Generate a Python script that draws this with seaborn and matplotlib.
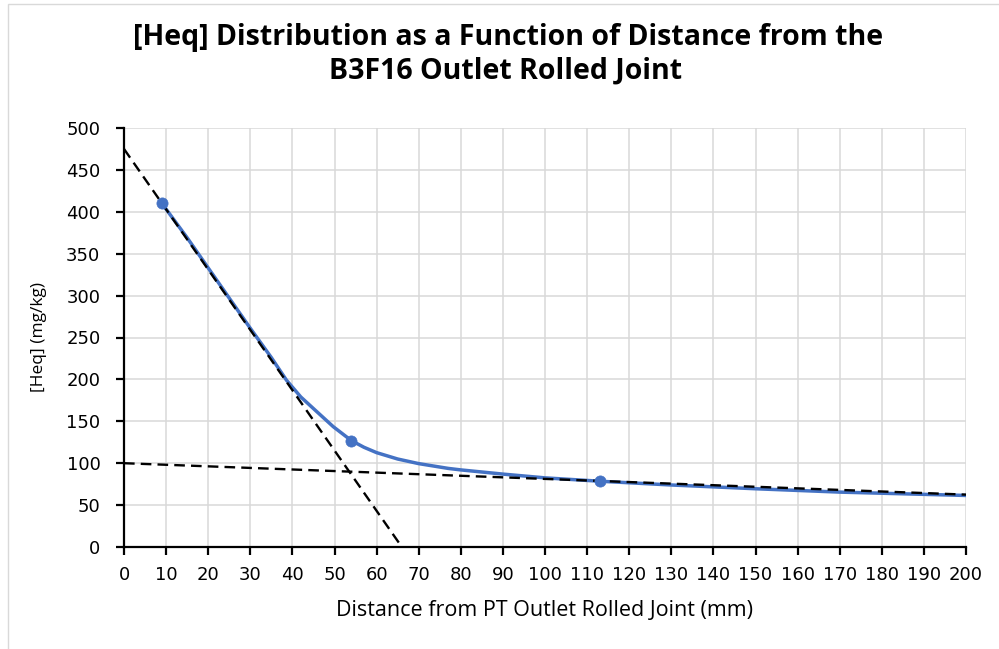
import matplotlib
matplotlib.use("Agg")
import matplotlib.pyplot as plt
import seaborn as sns
import pandas as pd
from matplotlib.patches import Rectangle

# ---- data ----
marker_x = [9, 54, 113]
marker_y = [410, 127, 78.5]

curve_x = [9, 15, 20, 25, 30, 35, 38.6, 42, 45.8, 49.7, 54, 57, 60, 65, 70, 77, 80, 90, 100, 113, 130, 150, 170, 200]
curve_y = [410, 369, 333, 297, 261, 226, 199, 179, 161.5, 143.6, 127, 119, 112.6, 105, 99.5, 93.8, 92, 87, 82.5, 78.5, 74, 69.5, 65.5, 61.5]

trend1_x = [0, 66]
trend1_y = [475, 0]
trend2_x = [0, 200]
trend2_y = [100, 62.5]

x_ticks = list(range(0, 201, 10))
y_ticks = list(range(0, 501, 50))

title_lines = ["[Heq] Distribution as a Function of Distance from the",
               "B3F16 Outlet Rolled Joint"]
x_label = "Distance from PT Outlet Rolled Joint (mm)"
y_label = "[Heq] (mg/kg)"

# ---- figure ----
sns.set_theme(style="whitegrid")
plt.rcParams['font.family'] = ['DejaVu Sans']
plt.rcParams['text.color'] = 'black'

fig = plt.figure(figsize=(9.99, 6.49), dpi=100)
fig.patch.set_facecolor("white")
ax = fig.add_axes([124/999, 1-547/649, (966-124)/999, (547-128)/649])
ax.set_facecolor("white")

curve_df = pd.DataFrame({"x": curve_x, "y": curve_y})
sns.lineplot(data=curve_df, x="x", y="y", ax=ax, color="#4472C4", lw=2.5,
             sort=False, estimator=None, zorder=3)

t1 = pd.DataFrame({"x": trend1_x, "y": trend1_y})
t2 = pd.DataFrame({"x": trend2_x, "y": trend2_y})
for t in (t1, t2):
    sns.lineplot(data=t, x="x", y="y", ax=ax, color="black", lw=1.7,
                 sort=False, estimator=None, zorder=4, dashes=False,
                 linestyle=(0, (4.5, 2.6)))

mk = pd.DataFrame({"x": marker_x, "y": marker_y})
sns.scatterplot(data=mk, x="x", y="y", ax=ax, color="#4472C4", s=65,
                edgecolor="#4472C4", linewidth=0.5, zorder=5)

ax.set_xlim(0, 200)
ax.set_ylim(0, 500)
ax.set_xticks(x_ticks)
ax.set_yticks(y_ticks)
ax.grid(True, color="#D9D9D9", lw=1.1)
ax.set_axisbelow(True)

for side in ("top", "right"):
    ax.spines[side].set_visible(False)
for side in ("left", "bottom"):
    ax.spines[side].set_visible(True)
    ax.spines[side].set_color("black")
    ax.spines[side].set_linewidth(1.6)
    ax.spines[side].set_zorder(6)

ax.tick_params(axis="both", which="major", direction="out", length=6,
               width=1.6, color="black", labelsize=13, labelcolor="black",
               bottom=True, left=True)
ax.tick_params(axis="x", pad=8)
ax.tick_params(axis="y", pad=11)

ax.set_xlabel(x_label, fontsize=15.5, color="black",
              family=["Open Sans", "DejaVu Sans"])
ax.set_ylabel(y_label, fontsize=12.5, color="black",
              family=["Open Sans", "DejaVu Sans"])
ax.xaxis.set_label_coords(0.5, (547-610)/419)
ax.xaxis.label.set_va("center")
ax.yaxis.set_label_coords((39-124)/842, 0.5)
ax.yaxis.label.set_va("center")

fig.text(508/999, 1-45/649, title_lines[0], ha="center", va="baseline",
         fontsize=20.5, fontweight="bold", color="black",
         family=["Open Sans", "DejaVu Sans"])
fig.text(506/999, 1-78.5/649, title_lines[1], ha="center", va="baseline",
         fontsize=20.5, fontweight="bold", color="black",
         family=["Open Sans", "DejaVu Sans"])

fig.patches.append(Rectangle((8/999, -0.1), 1.2, 1.1 - 4/649, transform=fig.transFigure,
                             fill=False, edgecolor="#D9D9D9", lw=1.0))

fig.savefig("out.png", dpi=100)
